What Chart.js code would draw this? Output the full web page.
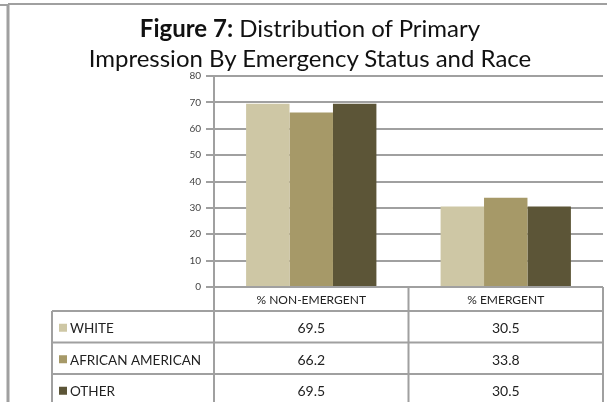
<!DOCTYPE html>
<html>
<head>
<meta charset="utf-8">
<script src="https://cdn.jsdelivr.net/npm/chart.js@4"></script>
<style>
  body { margin: 0; background: #fff; }
  #wrap { position: relative; width: 607px; height: 402px; overflow: hidden; }
  #title { position: absolute; left: 0; top: 13px; width: 620px; text-align: center;
           font-family: Lato, "Open Sans", sans-serif; font-size: 24px; line-height: 30px; color: #111; }
  #title b { font-weight: 700; }
  canvas { position: absolute; left: 0; top: 0; }
</style>
</head>
<body>
<div id="wrap">
  <canvas id="chart" width="607" height="402"></canvas>
  <div id="title"><b>Figure 7:</b> Distribution of Primary<br>Impression By Emergency Status and Race</div>
</div>
<script>
// data
const categories = ['% NON-EMERGENT', '% EMERGENT'];
const seriesNames = ['WHITE', 'AFRICAN AMERICAN', 'OTHER'];
const white = [69.5, 30.5];
const africanAmerican = [66.2, 33.8];
const other = [69.5, 30.5];
const yTicks = [0, 10, 20, 30, 40, 50, 60, 70, 80];

const colors = ['#cec7a5', '#a69968', '#5c5537'];
const lineGray = '#a0a0a0';

// frame + data table under the plot
const tablePlugin = {
  id: 'table',
  afterDraw(chart) {
    const ctx = chart.ctx;
    const area = chart.chartArea;
    const x = chart.scales.x;
    const mid = (x.getPixelForValue(0) + x.getPixelForValue(1)) / 2;
    const cols = [area.left, mid, area.right];
    const headTop = area.bottom;
    const headBottom = headTop + 24;
    const rowH = 31.5;
    const tableLeft = 52;
    const H = chart.height;

    ctx.save();
    ctx.strokeStyle = lineGray;
    ctx.lineWidth = 2;
    ctx.beginPath();
    // outer frame of the figure
    ctx.moveTo(0, 5); ctx.lineTo(8, 5);
    ctx.moveTo(8, 4); ctx.lineTo(chart.width, 4);
    ctx.stroke();
    ctx.lineWidth = 3;
    ctx.beginPath();
    ctx.moveTo(8, 5); ctx.lineTo(8, H);
    ctx.stroke();

    ctx.lineWidth = 2;
    ctx.beginPath();
    // vertical table lines
    cols.forEach(c => { ctx.moveTo(c, headTop); ctx.lineTo(c, H); });
    ctx.moveTo(tableLeft, headBottom); ctx.lineTo(tableLeft, H);
    // horizontal table lines
    ctx.moveTo(area.left, headTop); ctx.lineTo(area.right, headTop);
    for (let r = 0; r < seriesNames.length; r++) {
      const y = headBottom + r * rowH;
      ctx.moveTo(tableLeft, y); ctx.lineTo(area.right, y);
    }
    ctx.stroke();

    ctx.fillStyle = '#222';
    ctx.textAlign = 'center';
    ctx.textBaseline = 'middle';
    ctx.font = '12px Lato, "Open Sans", sans-serif';
    categories.forEach((c, i) => {
      ctx.fillText(c, x.getPixelForValue(i), (headTop + headBottom) / 2 + 1);
    });

    chart.data.datasets.forEach((ds, r) => {
      const cy = headBottom + r * rowH + rowH / 2 + 2;
      ctx.fillStyle = ds.backgroundColor;
      ctx.fillRect(59, cy - 5, 8, 8);
      ctx.fillStyle = '#222';
      ctx.textAlign = 'left';
      ctx.font = '13.5px Lato, "Open Sans", sans-serif';
      ctx.fillText(ds.label, 70, cy);
      ctx.textAlign = 'center';
      ctx.font = '14px Lato, "Open Sans", sans-serif';
      ds.data.forEach((v, i) => {
        ctx.fillText(v.toFixed(1), x.getPixelForValue(i), cy);
      });
    });
    ctx.restore();
  }
};

new Chart(document.getElementById('chart'), {
  type: 'bar',
  data: {
    labels: categories,
    datasets: [
      { label: seriesNames[0], data: white, backgroundColor: colors[0] },
      { label: seriesNames[1], data: africanAmerican, backgroundColor: colors[1] },
      { label: seriesNames[2], data: other, backgroundColor: colors[2] }
    ]
  },
  options: {
    responsive: false,
    animation: false,
    datasets: { bar: { categoryPercentage: 0.67, barPercentage: 1.0 } },
    layout: { padding: { left: 0, right: 4, top: 76, bottom: 0 } },
    plugins: { legend: { display: false }, tooltip: { enabled: false }, title: { display: false } },
    scales: {
      x: {
        grid: { display: false },
        border: { display: false },
        ticks: { display: false },
        afterFit(scale) { scale.height = 115; }
      },
      y: {
        min: 0,
        max: 80,
        afterBuildTicks(scale) { scale.ticks = yTicks.map(v => ({ value: v })); },
        afterFit(scale) { scale.width = 214; },
        grid: { color: lineGray, lineWidth: 2, tickLength: 8, drawTicks: true },
        border: { color: lineGray, width: 2 },
        ticks: { padding: 5, color: '#444', font: { family: 'Lato, "Open Sans", sans-serif', size: 10 } }
      }
    }
  },
  plugins: [tablePlugin]
});
</script>
</body>
</html>
